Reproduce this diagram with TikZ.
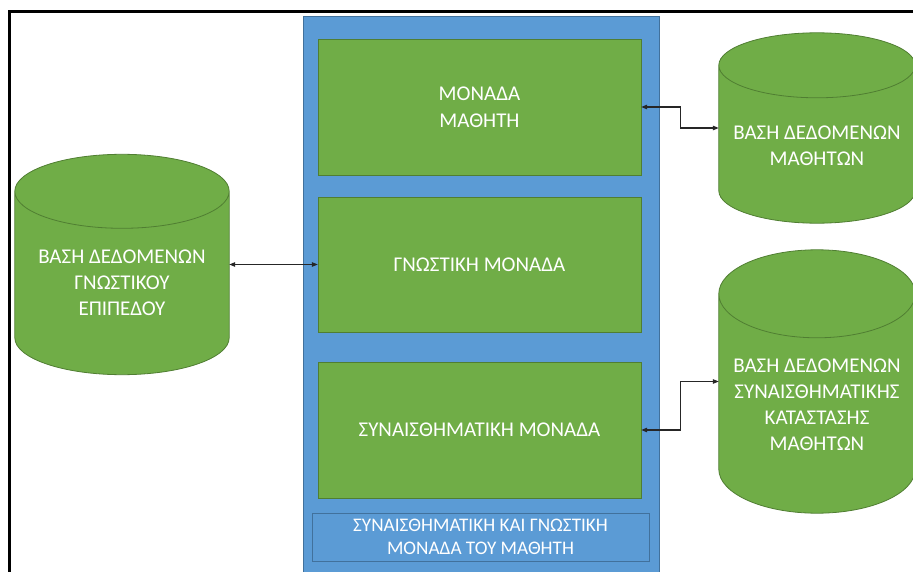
\documentclass[tikz,border=0pt]{standalone}
\usepackage{fontspec}
\setmainfont{Carlito}
\usetikzlibrary{arrows.meta}
\usetikzlibrary{backgrounds}
\usetikzlibrary{calc}

\definecolor{unitgreen}{HTML}{70AD47}
\definecolor{unitgreenline}{HTML}{507E32}
\definecolor{moduleblue}{HTML}{5B9BD5}
\definecolor{moduleblueline}{HTML}{41719C}

\begin{document}
\begin{tikzpicture}[x=1pt, y=-1pt,
  unit/.style={draw=unitgreenline, fill=unitgreen, text=white, inner sep=0pt,
    minimum width=323pt, minimum height=136pt, align=center,
    font=\fontsize{21pt}{27pt}\selectfont},
  caption/.style={draw=moduleblueline, fill=moduleblue, text=white, inner sep=0pt,
    minimum width=337pt, minimum height=48pt, align=center,
    font=\fontsize{19.2pt}{22.5pt}\selectfont},
  db/.style={text=white, inner sep=0pt,
    font=\fontsize{21pt}{26pt}\selectfont,
    execute at begin node={\begin{minipage}{194pt}\centering\vspace*{#1}},
    execute at end node={\end{minipage}}},
  cyl/.style={draw=unitgreenline, fill=unitgreen, line width=0.8pt},
  link/.style={<->, >={Triangle[length=6pt, width=4.5pt]}, line width=1.1pt, draw=black!85}]
\useasboundingbox (0,0) rectangle (913,572);

% frame
\draw[line width=2.2pt] (913,11.5) -- (9.5,11.5) -- (9.5,572);

% learner module
\node[draw=moduleblueline, fill=moduleblue, inner sep=0pt,
  minimum width=356pt, minimum height=574pt] (module) at (481,303) {};
\node[unit] (student) at (479.5,107) {ΜΟΝΑΔΑ\\ΜΑΘΗΤΗ};
\node[unit, minimum height=135pt] (cognitive) at (479.5,264.5) {ΓΝΩΣΤΙΚΗ ΜΟΝΑΔΑ};
\node[unit] (affective) at (479.5,430) {ΣΥΝΑΙΣΘΗΜΑΤΙΚΗ ΜΟΝΑΔΑ};
\node[caption] (modname) at (480.5,537) {ΣΥΝΑΙΣΘΗΜΑΤΙΚΗ ΚΑΙ ΓΝΩΣΤΙΚΗ\\ΜΟΝΑΔΑ ΤΟΥ ΜΑΘΗΤΗ};

% databases
\node[db=37pt, minimum width=214pt, minimum height=220pt] (dbl) at (122,264.5)
  {ΒΑΣΗ ΔΕΔΟΜΕΝΩΝ\\ΓΝΩΣΤΙΚΟΥ\\ΕΠΙΠΕΔΟΥ};
\node[db=36pt, minimum width=196pt, minimum height=190pt] (dbt) at (817,128)
  {ΒΑΣΗ ΔΕΔΟΜΕΝΩΝ\\ΜΑΘΗΤΩΝ};
\node[db=46pt, minimum width=196pt, minimum height=263pt] (dbb) at (817,381.5)
  {ΒΑΣΗ ΔΕΔΟΜΕΝΩΝ\\ΣΥΝΑΙΣΘΗΜΑΤΙΚΗΣ\\ΚΑΤΑΣΤΑΣΗΣ\\ΜΑΘΗΤΩΝ};

\begin{scope}[on background layer]
\foreach \dbname/\ry in {dbl/37, dbt/32.5, dbb/44}
  \draw[cyl] let \p1=(\dbname.north west), \p2=(\dbname.south east), \n1={(\x2-\x1)/2} in
    (\x1,{\y1-\ry*1pt}) -- (\x1,{\y2+\ry*1pt})
    arc[start angle=180, end angle=360, x radius={\n1*1pt}, y radius={\ry*1pt}]
    -- (\x2,{\y1-\ry*1pt})
    arc[start angle=0, end angle=180, x radius={\n1*1pt}, y radius={\ry*1pt}]
    -- cycle
    (\x1,{\y1-\ry*1pt}) arc[start angle=180, end angle=360, x radius={\n1*1pt}, y radius={\ry*1pt}];
\end{scope}

% links
\draw[link] (dbl.east) -- (cognitive.west);
\draw[link] (student.east) -- ++(39,0) |- (dbt.west);
\draw[link] (affective.east) -- ++(39,0) |- (dbb.west);
\end{tikzpicture}
\end{document}
